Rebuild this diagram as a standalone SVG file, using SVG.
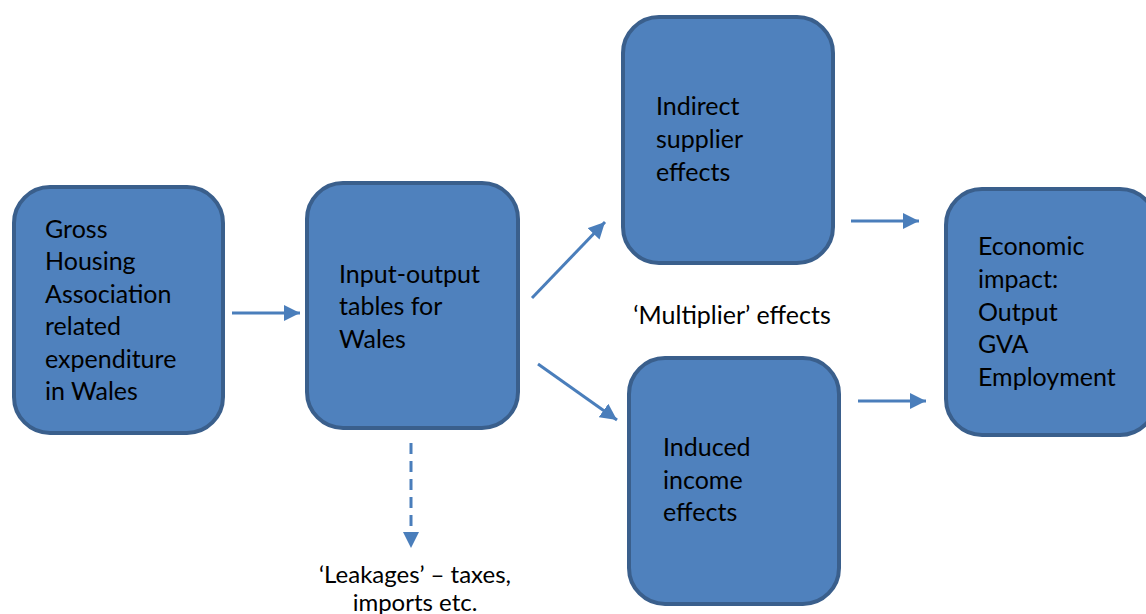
<svg xmlns="http://www.w3.org/2000/svg" width="1146" height="614" viewBox="0 0 1146 614">
<defs>
<style>
.box{fill:#4F81BD;stroke:#3A5F8C;stroke-width:4}
.t{font-family:Lato,"Open Sans","Liberation Sans",sans-serif;font-size:25px;fill:#000}
.s{font-size:24px}
.c{stroke:#4A7EBB;stroke-width:3;fill:none}
.d{stroke:#4A7EBB;stroke-width:3;fill:none;stroke-dasharray:11,7}
</style>
<marker id="ah" viewBox="0 0 10 10" refX="10" refY="5" markerWidth="5.5" markerHeight="5.5" markerUnits="strokeWidth" orient="auto">
<path d="M0,0 L10,5 L0,10 Z" fill="#4A7EBB"/>
</marker>
</defs>
<rect width="1146" height="614" fill="#fff"/>
<g id="connectors">
<line class="c" x1="232" y1="313" x2="300" y2="313" marker-end="url(#ah)"/>
<line class="c" x1="532" y1="298" x2="605" y2="222" marker-end="url(#ah)"/>
<line class="c" x1="538" y1="364" x2="617" y2="420" marker-end="url(#ah)"/>
<line class="c" x1="851" y1="221" x2="919" y2="221" marker-end="url(#ah)"/>
<line class="c" x1="858" y1="401" x2="926" y2="401" marker-end="url(#ah)"/>
<line class="d" x1="411" y1="443" x2="411" y2="530"/>
<path d="M403,532 L419,532 L411,548 Z" fill="#4A7EBB"/>
</g>
<g id="gross">
<rect class="box" x="14" y="187" width="209" height="246" rx="36"/>
<text class="t"><tspan x="45" y="238">Gross</tspan><tspan x="45" y="270">Housing</tspan><tspan x="45" y="303">Association</tspan><tspan x="45" y="335">related</tspan><tspan x="45" y="368">expenditure</tspan><tspan x="45" y="400">in Wales</tspan></text>
</g>
<g id="io">
<rect class="box" x="307" y="183" width="211" height="245" rx="36"/>
<text class="t"><tspan x="339" y="283">Input-output</tspan><tspan x="339" y="315">tables for</tspan><tspan x="339" y="348">Wales</tspan></text>
</g>
<g id="indirect">
<rect class="box" x="623" y="17" width="210" height="246" rx="36"/>
<text class="t"><tspan x="656" y="115">Indirect</tspan><tspan x="656" y="148">supplier</tspan><tspan x="656" y="181">effects</tspan></text>
</g>
<g id="induced">
<rect class="box" x="629" y="358" width="210" height="246" rx="36"/>
<text class="t"><tspan x="663" y="456">Induced</tspan><tspan x="663" y="489">income</tspan><tspan x="663" y="521">effects</tspan></text>
</g>
<g id="impact">
<rect class="box" x="946" y="189" width="210" height="246" rx="36"/>
<text class="t"><tspan x="978" y="255">Economic</tspan><tspan x="978" y="288">impact:</tspan><tspan x="978" y="321">Output</tspan><tspan x="978" y="353">GVA</tspan><tspan x="978" y="386">Employment</tspan></text>
</g>
<g id="multiplier">
<text class="t" x="732" y="324" text-anchor="middle">‘Multiplier’ effects</text>
</g>
<g id="leakages">
<text class="t s" text-anchor="middle"><tspan x="415" y="583">‘Leakages’ – taxes,</tspan><tspan x="415" y="611">imports etc.</tspan></text>
</g>
</svg>
